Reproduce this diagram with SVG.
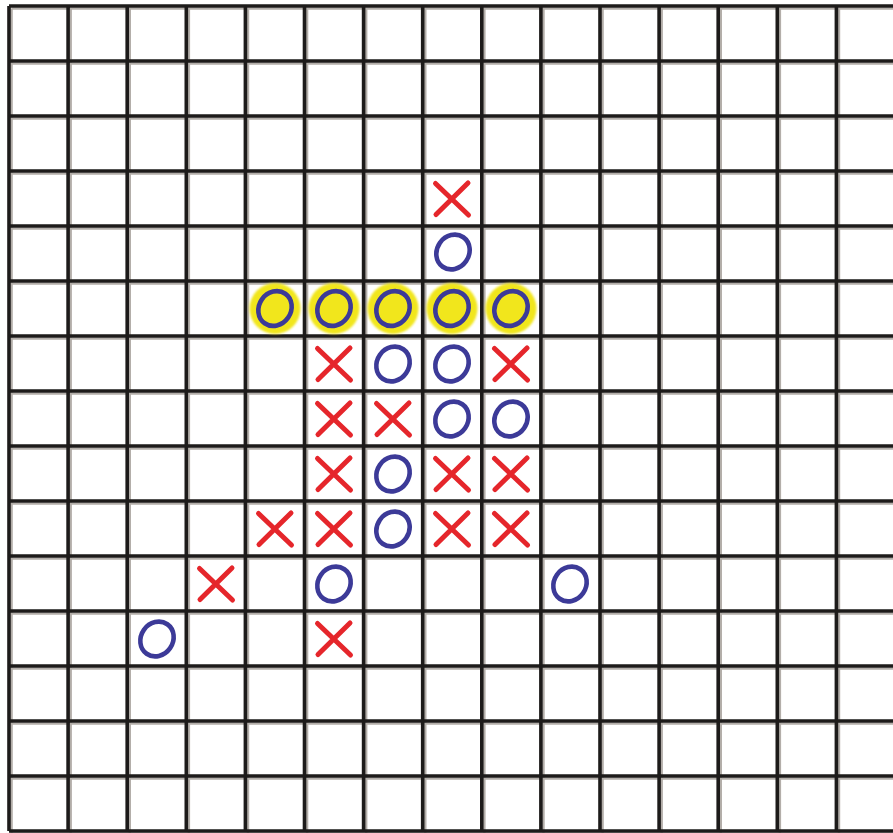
<svg xmlns="http://www.w3.org/2000/svg" xmlns:xlink="http://www.w3.org/1999/xlink" width="893" height="833" viewBox="0 0 893 833">
  <style>
    .grid { fill: none; stroke: #1d1b1a; stroke-width: 3.6; }
    .shadow { fill: none; stroke: #a09a94; stroke-width: 2.4; opacity: 0.8; }
    .x { fill: none; stroke: #e5262b; stroke-width: 5; stroke-linecap: round; }
    .o { fill: none; stroke: #3c3a98; stroke-width: 4.6; }
    .hl { fill: #f1e61c; }
  </style>
  <defs>
    <path id="gridlines" d="M9,6V831 M68.1,6V831 M127.2,6V831 M186.3,6V831 M245.4,6V831 M304.5,6V831 M363.6,6V831 M422.7,6V831 M481.8,6V831 M540.9,6V831 M600,6V831 M659.1,6V831 M718.2,6V831 M777.3,6V831 M836.4,6V831 M9,6H893 M9,61H893 M9,116H893 M9,171H893 M9,226H893 M9,281H893 M9,336H893 M9,391H893 M9,446H893 M9,501H893 M9,556H893 M9,611H893 M9,666H893 M9,721H893 M9,776H893 M9,831H893"/>
    <g id="X"><path class="x" d="M-16.5,-15.5 L16.5,16 M16,-16 L-16,15.5"/></g>
    <g id="O"><ellipse class="o" cx="0" cy="0" rx="16" ry="18" transform="rotate(35)"/></g>
    <filter id="soft" x="-20%" y="-20%" width="140%" height="140%"><feGaussianBlur stdDeviation="1.2"/></filter>
    <g id="YO"><circle class="hl" r="25.5" filter="url(#soft)"/><ellipse class="o" cx="0" cy="0" rx="16" ry="18" transform="rotate(35)"/></g>
  </defs>
  <rect width="893" height="833" fill="#ffffff"/>
  <g id="grid">
    <use href="#gridlines" class="shadow" transform="translate(2.6,2.6)"/>
    <use href="#gridlines" class="grid"/>
  </g>
  <g id="pieces">
    <g id="r3c7"><use href="#X" x="452" y="199"/></g>
    <g id="r4c7"><use href="#O" x="453" y="252"/></g>
    <g id="r5c4"><use href="#YO" x="275" y="308.5"/></g>
    <g id="r5c5"><use href="#YO" x="334" y="308.5"/></g>
    <g id="r5c6"><use href="#YO" x="393" y="308.5"/></g>
    <g id="r5c7"><use href="#YO" x="452" y="308.5"/></g>
    <g id="r5c8"><use href="#YO" x="511" y="308.5"/></g>
    <g id="r6c5"><use href="#X" x="334" y="364"/></g>
    <g id="r6c6"><use href="#O" x="393" y="364"/></g>
    <g id="r6c7"><use href="#O" x="452" y="364"/></g>
    <g id="r6c8"><use href="#X" x="511" y="364"/></g>
    <g id="r7c5"><use href="#X" x="334" y="419"/></g>
    <g id="r7c6"><use href="#X" x="393" y="419"/></g>
    <g id="r7c7"><use href="#O" x="452" y="419"/></g>
    <g id="r7c8"><use href="#O" x="511" y="419"/></g>
    <g id="r8c5"><use href="#X" x="334" y="474"/></g>
    <g id="r8c6"><use href="#O" x="393" y="474"/></g>
    <g id="r8c7"><use href="#X" x="452" y="474"/></g>
    <g id="r8c8"><use href="#X" x="511" y="474"/></g>
    <g id="r9c4"><use href="#X" x="275" y="529"/></g>
    <g id="r9c5"><use href="#X" x="334" y="529"/></g>
    <g id="r9c6"><use href="#O" x="393" y="529"/></g>
    <g id="r9c7"><use href="#X" x="452" y="529"/></g>
    <g id="r9c8"><use href="#X" x="511" y="529"/></g>
    <g id="r10c3"><use href="#X" x="216" y="584"/></g>
    <g id="r10c5"><use href="#O" x="334" y="584"/></g>
    <g id="r10c9"><use href="#O" x="570" y="584"/></g>
    <g id="r11c2"><use href="#O" x="157" y="639"/></g>
    <g id="r11c5"><use href="#X" x="334" y="639"/></g>
  </g>
</svg>
